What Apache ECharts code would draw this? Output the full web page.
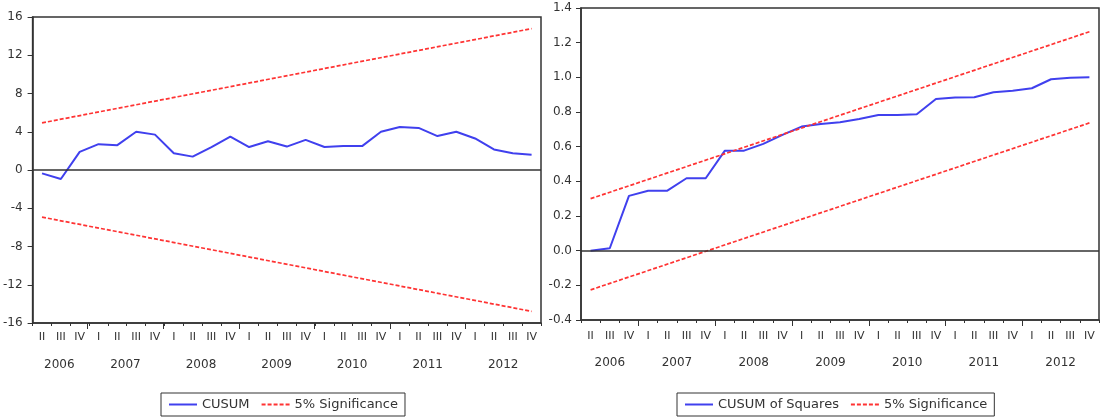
<!DOCTYPE html>
<html><head><meta charset="utf-8">
<script src="https://cdn.jsdelivr.net/npm/echarts@6/dist/echarts.min.js"></script>
<style>html,body{margin:0;padding:0;background:#fff}#c{width:1108px;height:420px}</style>
</head><body><div id="c"></div>
<script>
// ---- data ----
const quarterLabels = ['II','III','IV','I','II','III','IV','I','II','III','IV','I','II','III','IV','I','II','III','IV','I','II','III','IV','I','II','III','IV'];
const yearLabels = ['2006','2007','2008','2009','2010','2011','2012'];
const quartersPerYear = [3,4,4,4,4,4,4];
const cusum = [-0.35,-0.94,1.9,2.7,2.6,4.0,3.7,1.75,1.4,2.4,3.5,2.4,3.0,2.45,3.15,2.4,2.5,2.5,4.0,4.5,4.4,3.55,4.0,3.3,2.15,1.75,1.6];
const cusumUpperEnds = [4.93, 14.78];
const cusumLowerEnds = [-4.93, -14.78];
const cusumSq = [0.0,0.014,0.316,0.346,0.346,0.418,0.418,0.577,0.577,0.616,0.668,0.716,0.731,0.741,0.76,0.783,0.783,0.787,0.875,0.883,0.885,0.914,0.923,0.937,0.989,0.998,1.0];
const sqUpperEnds = [0.30, 1.263];
const sqLowerEnds = [-0.226, 0.737];
const cusumAxis = {min: -16, max: 16, interval: 4};
const sqAxis = {min: -0.4, max: 1.4, interval: 0.2};

// ---- helpers ----
const N = quarterLabels.length;
function endsSeries(ends) {
  const a = new Array(N).fill(null);
  a[0] = ends[0]; a[N - 1] = ends[1];
  return a;
}
const yearCenters = [], yearBounds = [];
(function () {
  let s = 0;
  quartersPerYear.forEach((n, i) => {
    yearCenters.push(s + n / 2);
    s += n;
    if (i < quartersPerYear.length - 1) yearBounds.push(s);
  });
})();

const FONT = 'DejaVu Sans';
const TXT = '#333';
const AX = '#333';
const BLUE = '#4040ee';
const RED = '#ff3333';

function quarterAxis(grid, margin) {
  return {
    type: 'category', gridIndex: grid, data: quarterLabels, boundaryGap: true,
    axisLine: {show: true, onZero: false, lineStyle: {color: AX, width: 1.5}},
    axisTick: {show: true, interval: 0, length: 3, inside: false, lineStyle: {color: AX, width: 1}},
    axisLabel: {interval: 0, margin: margin, fontSize: 11, color: TXT, fontFamily: FONT},
    splitLine: {show: false}
  };
}
function yearAxis(grid, margin) {
  return {
    type: 'value', gridIndex: grid, min: 0, max: N,
    axisLine: {show: false, onZero: false},
    axisTick: {show: true, length: 6, inside: false, customValues: yearBounds, lineStyle: {color: AX, width: 1}},
    axisLabel: {
      show: true, margin: margin, fontSize: 12, color: TXT, fontFamily: FONT,
      customValues: yearCenters,
      formatter: v => { const i = yearCenters.indexOf(v); return i >= 0 ? yearLabels[i] : ''; }
    },
    splitLine: {show: false}
  };
}
function valueAxis(grid, spec, margin, dec) {
  return {
    type: 'value', gridIndex: grid, min: spec.min, max: spec.max, interval: spec.interval,
    axisLine: {show: true, onZero: false, lineStyle: {color: AX, width: 1.5}},
    axisTick: {show: true, length: 5, inside: false, lineStyle: {color: AX, width: 1}},
    axisLabel: {margin: margin, fontSize: 12, color: TXT, fontFamily: FONT,
      formatter: v => dec ? Number(v).toFixed(dec) : String(Math.round(v))},
    splitLine: {show: false}
  };
}
const zeroLine = {
  silent: true, symbol: ['none', 'none'], label: {show: false},
  lineStyle: {color: AX, type: 'solid', width: 1.5},
  emphasis: {disabled: true},
  data: [{yAxis: 0}]
};
function lineSeries(name, x, y, data, color, dashed, extra) {
  return Object.assign({
    name: name, type: 'line', xAxisIndex: x, yAxisIndex: y, data: data,
    symbol: 'none', showSymbol: false, connectNulls: true, animation: false,
    lineStyle: {color: color, width: dashed ? 1.7 : 2, type: dashed ? [4, 2] : 'solid'},
    itemStyle: {color: color}
  }, extra || {});
}
const legendBase = {
  top: 393, orient: 'horizontal', selectedMode: false,
  borderColor: AX, borderWidth: 1, borderRadius: 0, padding: [5, 7, 5, 7],
  itemWidth: 28, itemHeight: 10, itemGap: 11,
  itemStyle: {opacity: 0},
  textStyle: {fontSize: 13, color: TXT, fontFamily: FONT}
};

const chart = echarts.init(document.getElementById('c'), null, {renderer: 'canvas'});
chart.setOption({
  animation: false,
  backgroundColor: '#fff',
  grid: [
    {left: 31, top: 17, width: 510, height: 306, show: true, borderColor: AX, borderWidth: 1.5, backgroundColor: 'transparent'},
    {left: 31, top: 17, width: 510, height: 306, show: false},
    {left: 581, top: 8, width: 518, height: 312, show: true, borderColor: AX, borderWidth: 1.5, backgroundColor: 'transparent'},
    {left: 581, top: 8, width: 518, height: 312, show: false}
  ],
  xAxis: [quarterAxis(0, 9), yearAxis(1, 36), quarterAxis(2, 11), yearAxis(3, 37)],
  yAxis: [
    valueAxis(0, cusumAxis, 10, 0),
    {type: 'value', gridIndex: 1, show: false, min: 0, max: 1},
    valueAxis(2, sqAxis, 9, 1),
    {type: 'value', gridIndex: 3, show: false, min: 0, max: 1}
  ],
  legend: [
    Object.assign({}, legendBase, {left: 161, data: ['CUSUM', '5% Significance']}),
    Object.assign({}, legendBase, {left: 677, data: ['CUSUM of Squares', '5% Significance']})
  ],
  series: [
    lineSeries('CUSUM', 0, 0, cusum, BLUE, false, {markLine: zeroLine, z: 3}),
    lineSeries('5% Significance', 0, 0, endsSeries(cusumUpperEnds), RED, true),
    lineSeries('5% Significance', 0, 0, endsSeries(cusumLowerEnds), RED, true),
    lineSeries('CUSUM of Squares', 2, 2, cusumSq, BLUE, false, {markLine: zeroLine, z: 3}),
    lineSeries('5% Significance', 2, 2, endsSeries(sqUpperEnds), RED, true),
    lineSeries('5% Significance', 2, 2, endsSeries(sqLowerEnds), RED, true)
  ]
});
</script>
</body></html>
